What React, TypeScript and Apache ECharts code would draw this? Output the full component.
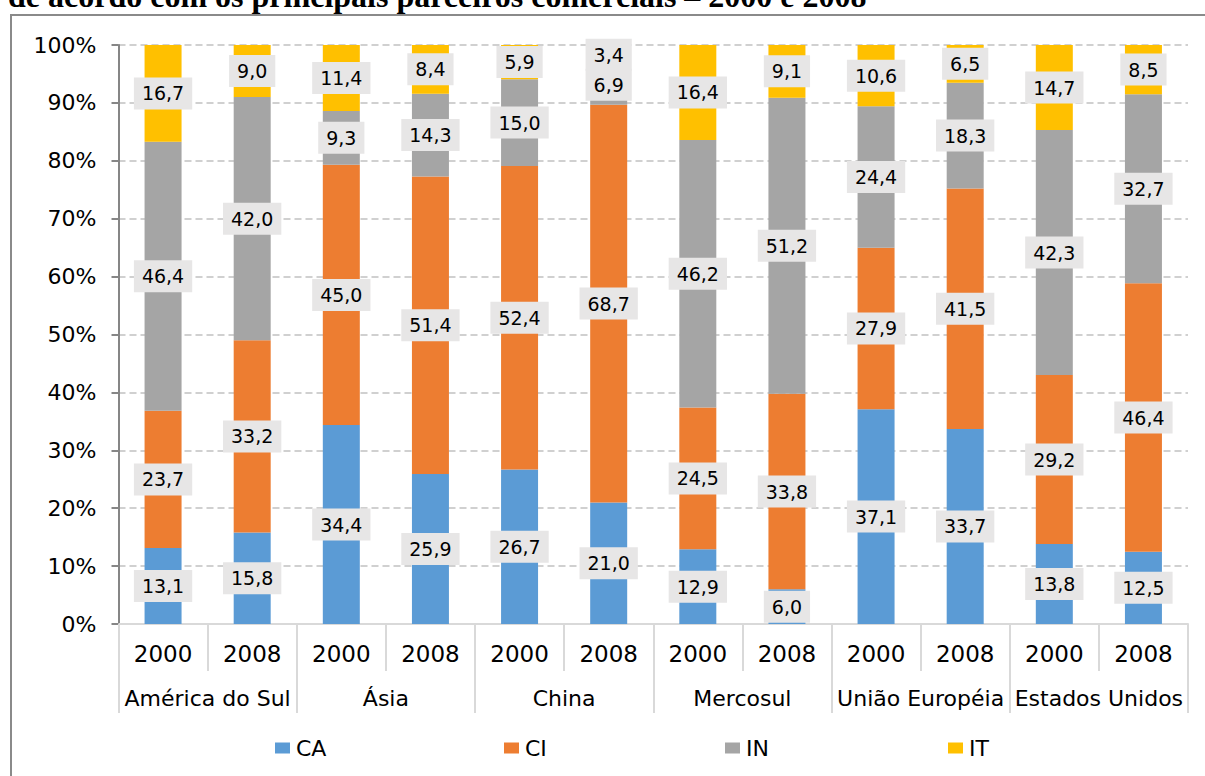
import React, { useEffect, useRef } from "react";
import * as echarts from "echarts";

const groups = ["América do Sul", "Ásia", "China", "Mercosul", "União Européia", "Estados Unidos"];
const years = ["2000", "2008", "2000", "2008", "2000", "2008", "2000", "2008", "2000", "2008", "2000", "2008"];
const seriesNames = ["CA", "CI", "IN", "IT"];
const CA = [13.1, 15.8, 34.4, 25.9, 26.7, 21.0, 12.9, 6.0, 37.1, 33.7, 13.8, 12.5];
const CI = [23.7, 33.2, 45.0, 51.4, 52.4, 68.7, 24.5, 33.8, 27.9, 41.5, 29.2, 46.4];
const IN = [46.4, 42.0, 9.3, 14.3, 15.0, 6.9, 46.2, 51.2, 24.4, 18.3, 42.3, 32.7];
const IT = [16.7, 9.0, 11.4, 8.4, 5.9, 3.4, 16.4, 9.1, 10.6, 6.5, 14.7, 8.5];
const yTicks = [0, 10, 20, 30, 40, 50, 60, 70, 80, 90, 100];
const title = "de acordo com os principais parceiros comerciais – 2000 e 2008";

const colors = ["#5b9bd5", "#ed7d31", "#a5a5a5", "#ffc000"];
const FONT = "DejaVu Sans";

export default function App() {
  const ref = useRef<HTMLDivElement>(null);
  useEffect(() => {
    if (!ref.current) return;
    const chart = echarts.init(ref.current, undefined, { renderer: "svg" });
    const all = [CA, CI, IN, IT];
    const totals = years.map((_, i) => all.reduce((s, a) => s + a[i], 0));
    const series = all.map((arr, si) => ({
      name: seriesNames[si],
      type: "bar",
      stack: "total",
      xAxisIndex: 0,
      yAxisIndex: 0,
      barWidth: 37,
      itemStyle: { color: colors[si] },
      data: arr.map((v, i) => (v * 100) / totals[i]),
      label: {
        show: true,
        position: "inside",
        formatter: (p: any) => arr[p.dataIndex].toFixed(1).replace(".", ","),
        color: "#000",
        fontFamily: FONT,
        fontSize: 19,
        lineHeight: 22,
        backgroundColor: "#e7e6e6",
        padding: [5, 8],
      },
    }));
    const legendX = [275, 504, 725, 948];
    const legends = seriesNames.map((n, i) => ({
      data: [n],
      left: legendX[i],
      top: 737,
      padding: 0,
      itemWidth: 15,
      itemHeight: 11,
      icon: "rect",
      textStyle: { fontFamily: FONT, fontSize: 22, color: "#000", padding: [0, 0, 0, 1] },
      selectedMode: false,
    }));
    chart.setOption({
      animation: false,
      backgroundColor: "#fff",
      textStyle: { fontFamily: FONT },
      graphic: [
        {
          type: "rect",
          shape: { x: 11, y: 15, width: 1230, height: 800 },
          style: { fill: "none", stroke: "#8a8a8a", lineWidth: 2 },
          silent: true,
        },
        {
          type: "text",
          x: 8,
          y: 12,
          style: {
            text: title,
            font: 'bold 32px "Liberation Serif"',
            fill: "#000",
            verticalAlign: "bottom",
          },
        },
      ],
      legend: legends,
      grid: { left: 118.5, right: 17, top: 45, bottom: 152, containLabel: false },
      xAxis: [
        {
          type: "category",
          data: years,
          position: "bottom",
          offset: 0,
          axisLine: { show: true, lineStyle: { color: "#d9d9d9", width: 2 } },
          axisTick: { show: true, interval: 0, length: 47, lineStyle: { color: "#d9d9d9", width: 2 } },
          axisLabel: { interval: 0, margin: 18, fontSize: 23, color: "#000", fontFamily: FONT },
        },
        {
          type: "category",
          data: groups,
          position: "bottom",
          offset: 0,
          axisLine: { show: false },
          axisTick: { show: true, interval: 0, length: 89, lineStyle: { color: "#d9d9d9", width: 2 } },
          axisLabel: { interval: 0, margin: 63, fontSize: 22, color: "#000", fontFamily: FONT },
        },
      ],
      yAxis: {
        type: "value",
        min: yTicks[0],
        max: yTicks[yTicks.length - 1],
        interval: 10,
        axisLine: { show: true, lineStyle: { color: "#868686", width: 2 } },
        axisTick: { show: true, length: 7, lineStyle: { color: "#868686", width: 2 } },
        axisLabel: { formatter: "{value}%", margin: 22, fontSize: 22, color: "#000", fontFamily: FONT },
        splitLine: { show: true, lineStyle: { color: "#d0d0d0", width: 2, type: [7, 4] } },
      },
      series,
    });
    return () => chart.dispose();
  }, []);
  return (
    <div
      ref={ref}
      style={{ position: "absolute", left: 0, top: 0, width: 1205, height: 776 }}
    />
  );
}
